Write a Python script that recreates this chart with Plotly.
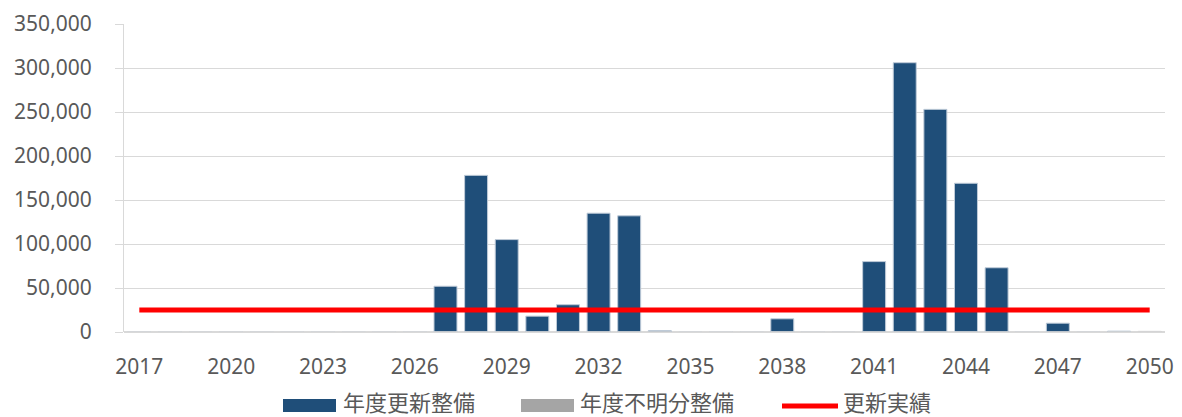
import plotly.graph_objects as go

years = list(range(2017, 2051))

# 年度更新整備
renewal = [0, 0, 0, 0, 0, 0, 0, 0, 0, 0,
           52000, 178000, 105000, 18000, 31000, 135000, 132000, 1500, 0, 0,
           0, 15000, 0, 0, 80000, 306000, 253000, 169000, 73000, 0,
           10000, 0, 1000, 0]

# 年度不明分整備
unknown = [0] * 33 + [800]

# 更新実績
actual = [25000] * 34

tick_years = list(range(2017, 2051, 3))
tick_vals = [0, 50000, 100000, 150000, 200000, 250000, 300000, 350000]

names = ["年度更新整備", "年度不明分整備", "更新実績"]
colors = ["#1F4E79", "#A5A5A5", "#FF0000"]

font_family = "Noto Sans, Noto Sans CJK JP, sans-serif"
text_color = "#595959"
grid_color = "#D9D9D9"

# the page body adds an 8px margin, so the figure is a bit smaller
W, H = 1174, 409
L, R, T, B = 116, 17, 16, 85
pw, ph = W - L - R, H - T - B


def px_x(x):
    return (x - L) / pw


def px_y(y):
    return (H - B - y) / ph


fig = go.Figure()
fig.add_trace(go.Bar(
    x=years, y=renewal, name=names[0],
    marker=dict(color=colors[0], line=dict(color="#BFCBD8", width=1)),
))
fig.add_trace(go.Bar(
    x=years, y=unknown, name=names[1],
    marker=dict(color=colors[1], line=dict(color=grid_color, width=1)),
))
fig.add_trace(go.Scatter(
    x=years, y=actual, name=names[2], mode="lines",
    line=dict(color=colors[2], width=5),
))

# legend drawn by hand so the keys look like the original (figure pixels)
legend_y = 393
keys = [(275, 328, 333), (513, 566, 570), (774, 830, 833)]
for i, (x0, x1, tx) in enumerate(keys):
    if i < 2:
        fig.add_shape(type="rect", xref="paper", yref="paper",
                      x0=px_x(x0), x1=px_x(x1), y0=px_y(legend_y + 11), y1=px_y(legend_y - 2),
                      fillcolor=colors[i], line=dict(width=0))
    else:
        fig.add_shape(type="line", xref="paper", yref="paper",
                      x0=px_x(x0), x1=px_x(x1), y0=px_y(legend_y + 5), y1=px_y(legend_y + 5),
                      line=dict(color=colors[i], width=5))
    fig.add_annotation(text=names[i], xref="paper", yref="paper",
                       x=px_x(tx), y=px_y(legend_y), xanchor="left", yanchor="middle",
                       showarrow=False,
                       font=dict(family="Noto Sans CJK JP", size=22, color=text_color))

fig.update_layout(
    width=W, height=H,
    margin=dict(l=L, r=R, t=T, b=B, autoexpand=False),
    plot_bgcolor="white", paper_bgcolor="white",
    barmode="overlay", bargap=0.25,
    showlegend=False,
    font=dict(family=font_family, size=21, color=text_color),
)
fig.update_xaxes(
    tickmode="array", tickvals=tick_years, ticktext=[str(y) for y in tick_years],
    range=[2016.5, 2050.5], showgrid=False, showline=False, zeroline=False,
    ticks="", ticklabelstandoff=20,
)
fig.update_yaxes(
    range=[0, 350000], tickvals=tick_vals, tickformat=",",
    showgrid=True, gridcolor=grid_color, gridwidth=1,
    showline=True, linecolor=grid_color, ticks="outside", ticklen=8, tickcolor=grid_color,
    zeroline=True, zerolinecolor=grid_color, ticklabelstandoff=19,
)

fig.write_html("out.html")
